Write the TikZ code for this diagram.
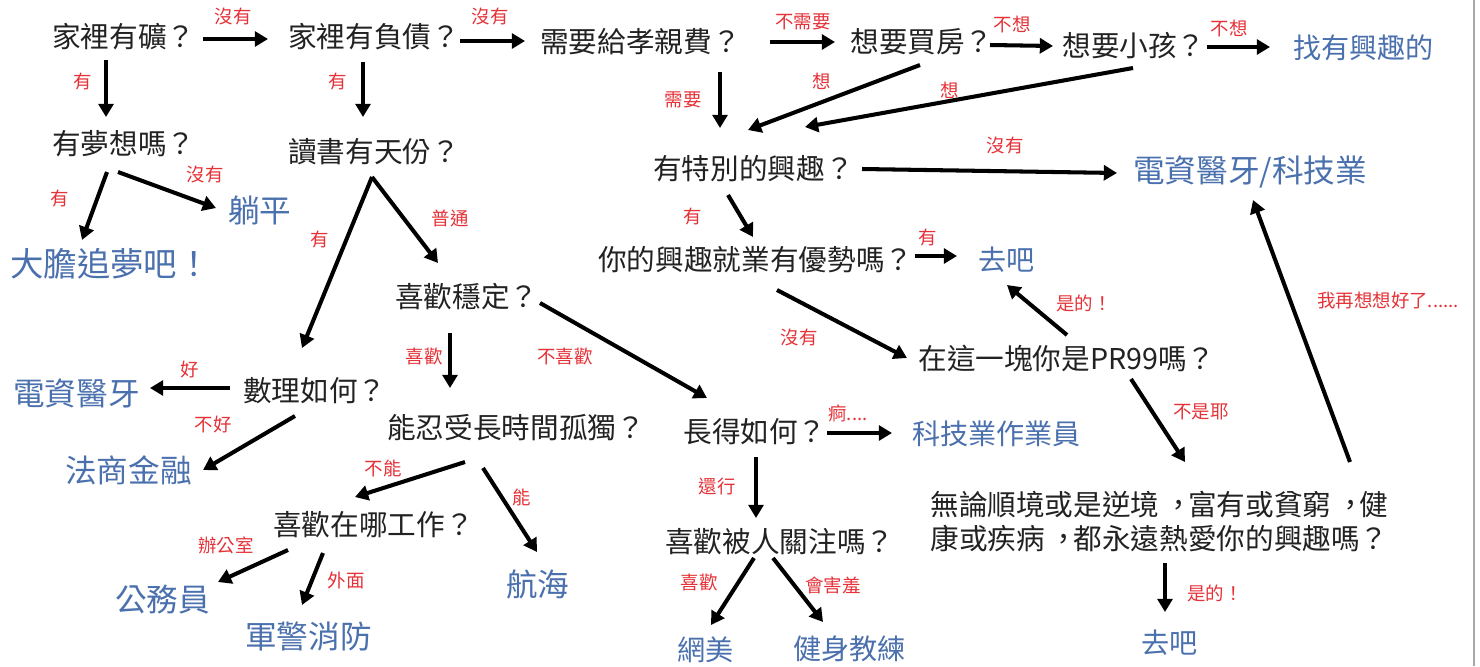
\documentclass[tikz,border=0pt]{standalone}
\usepackage{fontspec}
\setmainfont{Noto Sans CJK TC}[Script=CJK,Language=Chinese Traditional]
\usetikzlibrary{arrows.meta,calc}
\definecolor{qblack}{HTML}{222222}
\definecolor{ablue}{HTML}{4A70AE}
\definecolor{lred}{HTML}{E53238}
\definecolor{edgegray}{HTML}{A8A8A8}
\newcommand\midcomma{\makebox[1em][l]{\hspace{0.17em}，}}
\begin{document}
\begin{tikzpicture}[x=0.02cm,y=-0.02cm,
  q/.style={anchor=west,inner sep=0pt,text=qblack,font=\fontsize{16.3}{20}\selectfont},
  ans/.style={anchor=west,inner sep=0pt,text=ablue,font=\fontsize{18}{21}\selectfont},
  anss/.style={anchor=west,inner sep=0pt,text=ablue,font=\fontsize{16}{19}\selectfont},
  lab/.style={inner sep=0pt,text=lred,font=\fontsize{10.5}{12}\selectfont},
  arr/.style={line width=2.3pt,draw=black,-{Triangle[length=7.5pt,width=8.5pt]}}]
\useasboundingbox (0,0) rectangle (1480,666);
\fill[white] (0,0) rectangle (1480,666);
\draw[edgegray,line width=1.1pt] (1474,0) -- (1474,666);
% questions
\node[q] (n1) at (52,37) {家裡有礦？};
\node[q] (n2) at (288,37) {家裡有負債？};
\node[q] (n3) at (540,42) {需要給孝親費？};
\node[q] (n4) at (850,42) {想要買房？};
\node[q] (n5) at (1062,46) {想要小孩？};
\node[q] (n6) at (52,144) {有夢想嗎？};
\node[q] (n7) at (288,152) {讀書有天份？};
\node[q] (n8) at (653,169) {有特別的興趣？};
\node[q] (n9) at (598,260) {你的興趣就業有優勢嗎？};
\node[q] (n10) at (395,297) {喜歡穩定？};
\node[q] (n11) at (918,358) {在這一塊你是PR99嗎？};
\node[q] (n12) at (243,391) {數理如何？};
\node[q] (n13) at (387,428) {能忍受長時間孤獨？};
\node[q] (n14) at (683,432) {長得如何？};
\node[q,align=left,font=\fontsize{16.3}{19.9}\selectfont] (n15) at (930,521.5) {無論順境或是逆境\midcomma 富有或貧窮\midcomma 健\\康或疾病\midcomma 都永遠熱愛你的興趣嗎？};
\node[q] (n16) at (273,525) {喜歡在哪工作？};
\node[q] (n17) at (665,542) {喜歡被人關注嗎？};
% answers
\node[anss] (r1) at (1293,48) {找有興趣的};
\node[ans] (r2) at (1133,172) {電資醫牙/科技業};
\node[ans] (r3) at (228,210) {躺平};
\node[ans,font=\fontsize{19}{21}\selectfont] (r4) at (10,264) {大膽追夢吧！};
\node[anss] (r5) at (978,260) {去吧};
\node[ans] (r6) at (13,393) {電資醫牙};
\node[anss] (r7) at (912,434) {科技業作業員};
\node[ans] (r8) at (65,470) {法商金融};
\node[ans] (r9) at (115,599) {公務員};
\node[ans] (r10) at (506,584) {航海};
\node[ans] (r11) at (245,637) {軍警消防};
\node[anss] (r12) at (677,650) {網美};
\node[anss] (r13) at (793,649) {健身教練};
\node[anss] (r14) at (1141,643) {去吧};
% arrows
\draw[arr] ($(n1.west)+(151,2)$) -- ($(n2.west)+(-20,2)$);
\draw[arr] ($(n2.west)+(172,4)$) -- ($(n3.west)+(-15,-1)$);
\draw[arr] ($(n3.west)+(230,0)$) -- ($(n4.west)+(-15,0)$);
\draw[arr] ($(n4.west)+(140,3)$) -- ($(n5.west)+(-9,0)$);
\draw[arr] ($(n5.west)+(145,1)$) -- ($(r1.west)+(-23,-1)$);
\draw[arr] ($(n1.west)+(54,23)$) -- ($(n6.west)+(54,-27)$);
\draw[arr] ($(n2.west)+(75,25)$) -- ($(n7.west)+(75,-35)$);
\draw[arr] ($(n3.west)+(180,30)$) -- ($(n8.west)+(67,-41)$);
\draw[arr] ($(n4.west)+(70,23)$) -- ($(n8.west)+(95,-39)$);
\draw[arr] ($(n5.west)+(71,22)$) -- ($(n8.west)+(152,-42)$);
\draw[arr] ($(n8.west)+(209,0)$) -- ($(r2.west)+(-16,1)$);
\draw[arr] ($(n8.west)+(75,26)$) -- ($(n9.west)+(155,-23)$);
\draw[arr] ($(n9.west)+(317,-4)$) -- ($(r5.west)+(-21,-4)$);
\draw[arr] ($(n9.west)+(179,30)$) -- ($(n11.west)+(-11,0)$);
\draw[arr] ($(n11.west)+(149,-23)$) -- ($(r5.west)+(29,25)$);
\draw[arr] ($(n11.west)+(213,21)$) -- ($(n15.west)+(255,-59.5)$);
\draw[arr] ($(n15.west)+(420,-59.5)$) -- ($(r2.west)+(120,28)$);
\draw[arr] ($(n15.west)+(235,41.5)$) -- ($(r14.west)+(24,-31)$);
\draw[arr] ($(n6.west)+(55,28)$) -- ($(r4.west)+(72,-24)$);
\draw[arr] ($(n6.west)+(66,28)$) -- ($(r3.west)+(-12,-2)$);
\draw[arr] ($(n7.west)+(84,25)$) -- ($(n12.west)+(59,-43)$);
\draw[arr] ($(n7.west)+(84,25)$) -- ($(n10.west)+(43,-34)$);
\draw[arr] ($(n10.west)+(55,36)$) -- ($(n13.west)+(63,-40)$);
\draw[arr] ($(n10.west)+(145,6)$) -- ($(n14.west)+(24,-34)$);
\draw[arr] ($(n12.west)+(-13,-3)$) -- ($(r6.west)+(137,-5)$);
\draw[arr] ($(n12.west)+(52,25)$) -- ($(r8.west)+(138,0)$);
\draw[arr] ($(n13.west)+(78,34)$) -- ($(n16.west)+(82,-28)$);
\draw[arr] ($(n13.west)+(96,40)$) -- ($(r10.west)+(31,-32)$);
\draw[arr] ($(n14.west)+(73,25)$) -- ($(n17.west)+(91,-24)$);
\draw[arr] ($(n14.west)+(144,1)$) -- ($(r7.west)+(-20,-1)$);
\draw[arr] ($(n16.west)+(15,25)$) -- ($(r9.west)+(103,-17)$);
\draw[arr] ($(n16.west)+(50,28)$) -- ($(r11.west)+(57,-32)$);
\draw[arr] ($(n17.west)+(89,16)$) -- ($(r12.west)+(34,-25)$);
\draw[arr] ($(n17.west)+(108,16)$) -- ($(r13.west)+(30,-27)$);
% labels
\node[lab] (l1) at (233,17) {沒有};
\node[lab] (l2) at (490,17) {沒有};
\node[lab] (l3) at (803,22) {不需要};
\node[lab] (l4) at (1012,24) {不想};
\node[lab] (l5) at (1229,28) {不想};
\node[lab] (l6) at (83,82) {有};
\node[lab] (l7) at (338,82) {有};
\node[lab] (l8) at (683,100) {需要};
\node[lab] (l9) at (822,81) {想};
\node[lab] (l10) at (950,90) {想};
\node[lab] (l11) at (1005,146) {沒有};
\node[lab] (l12) at (693,217) {有};
\node[lab] (l13) at (928,238) {有};
\node[lab] (l14) at (1084,303) {是的！};
\node[lab] (l15) at (799,338) {沒有};
\node[lab] (l16) at (1201,412) {不是耶};
\node[lab] (l17) at (1388,301) {我再想想好了......};
\node[lab] (l18) at (1215,593) {是的！};
\node[lab] (l19) at (60,199) {有};
\node[lab] (l20) at (205,175) {沒有};
\node[lab] (l21) at (320,240) {有};
\node[lab] (l22) at (450,218) {普通};
\node[lab] (l23) at (424,357) {喜歡};
\node[lab] (l24) at (565,357) {不喜歡};
\node[lab] (l25) at (190,370) {好};
\node[lab] (l26) at (213,425) {不好};
\node[lab] (l27) at (383,468) {不能};
\node[lab] (l28) at (522,497) {能};
\node[lab] (l29) at (717,487) {還行};
\node[lab] (l30) at (848,413) {痾....};
\node[lab] (l31) at (226,545) {辦公室};
\node[lab] (l32) at (346,580) {外面};
\node[lab] (l33) at (699,583) {喜歡};
\node[lab] (l34) at (833,585) {會害羞};
\end{tikzpicture}
\end{document}
